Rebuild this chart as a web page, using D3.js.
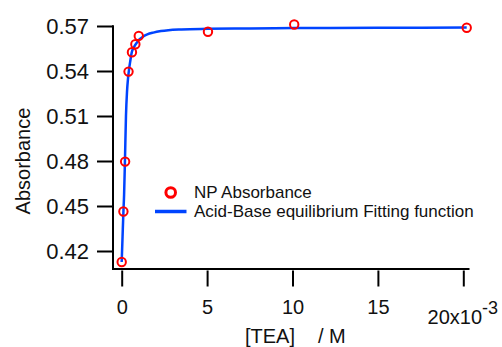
<!DOCTYPE html>
<html>
<head>
<meta charset="utf-8">
<script src="https://cdn.jsdelivr.net/npm/d3@7"></script>
<style>
  body { margin: 0; background: #fff; }
  svg { display: block; font-family: "Liberation Sans", Arial, sans-serif; }
</style>
</head>
<body>
<div class="chart_container"></div>
<script>
// measured points, [TEA] in M
const teaConc = [0, 0.0001, 0.0002, 0.0004, 0.0006, 0.0008, 0.001, 0.00505, 0.0101, 0.0202];
const absorbance = [0.4127, 0.4463, 0.4796, 0.5396, 0.5525, 0.5578, 0.5634, 0.5662, 0.5710, 0.5688];

// fitted curve
const fitConc = [0, 0.00002, 0.00005, 0.0001, 0.00014, 0.00019, 0.00025, 0.00031, 0.00037, 0.00043, 0.00050, 0.00059, 0.00070, 0.00088, 0.00105, 0.00126, 0.0015, 0.00185, 0.0023, 0.00273, 0.0035, 0.00505, 0.0075, 0.0101, 0.015, 0.0202];
const fitAbs = [0.4127, 0.4195, 0.4295, 0.4460, 0.4575, 0.4800, 0.5100, 0.5260, 0.5350, 0.5410, 0.5465, 0.5525, 0.5555, 0.5588, 0.5612, 0.5630, 0.5644, 0.5656, 0.5666, 0.5672, 0.5677, 0.5681, 0.5684, 0.5686, 0.5688, 0.5690];

const yTicks = [0.42, 0.45, 0.48, 0.51, 0.54, 0.57];
const xTicks = [0, 0.005, 0.01, 0.015, 0.02];
const xTickLabels = ["0", "5", "10", "15", "20x10"];

const legendNames = ["NP Absorbance", "Acid-Base equilibrium Fitting function"];

document.addEventListener("DOMContentLoaded", () => {
    const width = 502;
    const height = 347;
    const red = "#ff0000";
    const blue = "#0044ff";

    const svg = d3.select(".chart_container")
        .append("svg")
        .attr("width", width)
        .attr("height", height);

    //^ SCALES //
    const x = d3.scaleLinear().domain([0, 0.02]).range([121.7, 463.3]);
    const y = d3.scaleLinear().domain([0.42, 0.57]).range([251, 26]);
    const plotLeft = 113;
    const plotBottom = 269;

    //^ FRAME (left + bottom) //
    svg.append("path")
        .attr("d", `M${plotLeft},${y(0.5705)} V${plotBottom} H469.5`)
        .attr("fill", "none")
        .attr("stroke", "#000")
        .attr("stroke-width", 2);

    //^ Y AXIS //
    const yAxis = d3.axisLeft(y).tickValues(yTicks).tickSize(16).tickPadding(8)
        .tickFormat(d3.format(".2f"));
    const gy = svg.append("g").attr("transform", `translate(${plotLeft},0)`).call(yAxis);
    gy.select(".domain").remove();
    gy.selectAll("line").attr("stroke-width", 2);
    gy.selectAll("text").attr("font-size", 22).attr("fill", "#111")
        .attr("font-family", "Liberation Sans, Arial, sans-serif");

    //^ X AXIS //
    const xAxis = d3.axisBottom(x).tickValues(xTicks).tickSize(16).tickPadding(13)
        .tickFormat((d, i) => xTickLabels[i]);
    const gx = svg.append("g").attr("transform", `translate(0,${plotBottom + 1.5})`).call(xAxis);
    gx.select(".domain").remove();
    gx.selectAll("line").attr("stroke-width", 2);
    gx.selectAll("text").attr("font-size", 20).attr("fill", "#111")
        .attr("font-family", "Liberation Sans, Arial, sans-serif");
    // last label sits lower with exponent
    const lastLabel = gx.selectAll(".tick").filter((d) => d === 0.02).select("text");
    lastLabel.attr("dy", "1.2em").attr("x", -1);
    lastLabel.append("tspan").attr("dy", -10).attr("font-size", 18).text("-3");

    //^ AXIS TITLES //
    svg.append("text")
        .attr("transform", "rotate(-90)")
        .attr("x", -161)
        .attr("y", 30)
        .attr("text-anchor", "middle")
        .attr("font-size", 20)
        .attr("fill", "#111")
        .text("Absorbance");

    const xTitle = svg.append("text")
        .attr("x", 245)
        .attr("y", 343)
        .attr("font-size", 20)
        .attr("fill", "#111");
    xTitle.append("tspan").text("[TEA]");
    xTitle.append("tspan").attr("x", 318).text("/ M");

    //^ FIT CURVE //
    const fitData = fitConc.map((c, i) => [c, fitAbs[i]]);
    const line = d3.line().x((d) => x(d[0])).y((d) => y(d[1])).curve(d3.curveMonotoneX);
    svg.append("path")
        .datum(fitData)
        .attr("d", line)
        .attr("fill", "none")
        .attr("stroke", blue)
        .attr("stroke-width", 2.5);

    //^ DATA MARKERS //
    svg.selectAll("circle.pt")
        .data(teaConc)
        .enter()
        .append("circle")
        .attr("class", "pt")
        .attr("cx", (d) => x(d))
        .attr("cy", (d, i) => y(absorbance[i]))
        .attr("r", 4.2)
        .attr("fill", "none")
        .attr("stroke", red)
        .attr("stroke-width", 2);

    //^ LEGEND //
    const legend = svg.append("g");
    legend.append("circle")
        .attr("cx", 170.7).attr("cy", 192.5).attr("r", 4.8)
        .attr("fill", "none").attr("stroke", red).attr("stroke-width", 3);
    legend.append("line")
        .attr("x1", 155).attr("x2", 186.5).attr("y1", 211.5).attr("y2", 211.5)
        .attr("stroke", blue).attr("stroke-width", 3.5);
    legend.selectAll("text")
        .data(legendNames)
        .enter()
        .append("text")
        .attr("x", 194)
        .attr("y", (d, i) => 198 + i * 19)
        .attr("font-size", 17)
        .attr("fill", "#111")
        .text((d) => d);
});
</script>
</body>
</html>
